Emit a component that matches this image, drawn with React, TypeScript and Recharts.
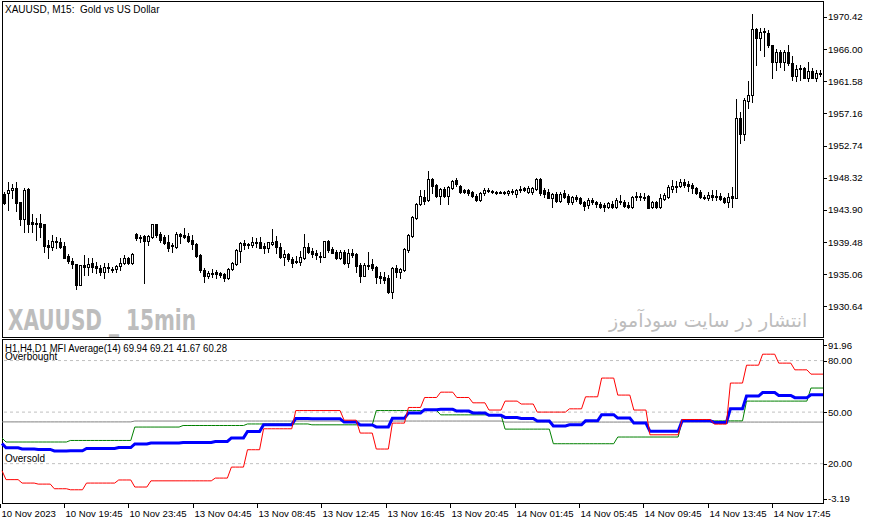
import { Bar, ComposedChart, Line, ReferenceLine, XAxis, YAxis } from "recharts";

const FONT = "'Liberation Sans', Arial, sans-serif";

// XAUUSD M15 candles, bar 0 = 10 Nov 15:45
const OPEN = [
  1946.09, 1946.23, 1946.64, 1946.92, 1944.99, 1942.66, 1946.78, 1942.25, 1942.11, 1942.11,
  1941.97, 1939.09, 1938.81, 1939.64, 1939.5, 1938.95, 1937.58, 1936.89, 1936.48, 1933.59,
  1936.34, 1936.07, 1936.62, 1936.2, 1935.93, 1935.38, 1936.07, 1935.79, 1935.79, 1936.2,
  1936.62, 1937.3, 1936.62, 1940.6, 1940.05, 1940.32, 1939.64, 1940.19, 1941.97, 1940.6,
  1940.19, 1939.5, 1938.95, 1938.81, 1940.6, 1940.46, 1940.32, 1939.77, 1939.23, 1937.71,
  1935.65, 1934.83, 1935.24, 1935.38, 1935.24, 1935.1, 1934.56, 1935.79, 1936.48, 1938.26,
  1939.36, 1939.23, 1939.09, 1939.5, 1939.5, 1938.95, 1938.68, 1939.23, 1939.64, 1938.81,
  1937.44, 1937.85, 1937.17, 1936.89, 1936.75, 1937.3, 1938.81, 1938.26, 1937.99, 1937.58,
  1937.44, 1939.64, 1938.54, 1938.13, 1937.3, 1938.13, 1936.62, 1937.99, 1937.85, 1936.34,
  1934.83, 1936.34, 1936.48, 1936.07, 1934.83, 1934.69, 1934.56, 1932.63, 1935.93, 1935.38,
  1935.65, 1938.4, 1940.32, 1942.8, 1944.72, 1945.68, 1945.27, 1948.16, 1947.33, 1945.82,
  1946.78, 1945.82, 1946.92, 1948.02, 1947.19, 1946.64, 1946.64, 1946.37, 1945.82, 1945.27,
  1946.23, 1946.64, 1946.51, 1946.37, 1946.37, 1946.37, 1946.23, 1946.51, 1946.09, 1946.78,
  1946.92, 1946.37, 1946.37, 1946.78, 1948.16, 1946.64, 1946.37, 1945.54, 1946.09, 1945.13,
  1946.23, 1945.82, 1944.99, 1945.68, 1945.54, 1944.99, 1944.58, 1945.27, 1944.99, 1944.72,
  1944.58, 1944.31, 1944.72, 1944.31, 1945.13, 1944.99, 1944.58, 1944.31, 1945.82, 1945.82,
  1945.68, 1945.82, 1944.31, 1944.99, 1944.31, 1945.41, 1945.68, 1946.78, 1947.19, 1947.19,
  1947.74, 1947.47, 1947.33, 1946.92, 1946.37, 1945.68, 1945.54, 1945.96, 1945.82, 1945.82,
  1945.54, 1944.99, 1945.82, 1945.54, 1956.54, 1954.34, 1958.87, 1959.7, 1968.77, 1967.53,
  1968.49, 1968.22, 1966.57, 1964.23, 1965.61, 1964.23, 1965.61, 1964.09, 1962.31, 1963.27,
  1963.41, 1962.03, 1962.99, 1962.03, 1962.72,
];
const HIGH = [
  1946.37, 1947.74, 1947.47, 1947.74, 1944.99, 1946.92, 1946.92, 1943.35, 1942.8, 1943.35,
  1941.97, 1939.77, 1940.46, 1940.19, 1940.05, 1939.5, 1937.85, 1937.3, 1936.48, 1936.34,
  1937.71, 1937.3, 1937.3, 1936.75, 1936.34, 1936.62, 1936.62, 1936.07, 1936.34, 1937.3,
  1937.71, 1937.44, 1937.99, 1940.74, 1940.46, 1940.46, 1940.46, 1941.97, 1941.97, 1940.87,
  1940.46, 1940.46, 1939.36, 1940.87, 1940.74, 1941.42, 1940.74, 1940.46, 1939.36, 1937.85,
  1935.93, 1935.52, 1935.79, 1935.65, 1935.38, 1935.24, 1935.93, 1936.75, 1938.54, 1939.5,
  1939.77, 1939.36, 1940.19, 1940.05, 1940.19, 1939.36, 1939.5, 1941.29, 1940.32, 1939.36,
  1938.4, 1937.99, 1937.44, 1937.58, 1938.26, 1940.6, 1939.36, 1938.68, 1938.4, 1938.13,
  1939.64, 1939.77, 1938.81, 1938.4, 1938.4, 1938.4, 1938.54, 1938.54, 1937.99, 1936.62,
  1936.62, 1938.13, 1937.17, 1936.2, 1935.38, 1935.38, 1934.97, 1936.07, 1936.34, 1935.93,
  1938.68, 1940.6, 1943.07, 1944.86, 1946.64, 1946.64, 1949.25, 1948.29, 1947.47, 1946.92,
  1947.06, 1947.19, 1948.02, 1948.29, 1947.33, 1946.78, 1946.78, 1946.51, 1946.09, 1946.37,
  1946.92, 1946.92, 1946.64, 1946.51, 1946.51, 1946.51, 1946.64, 1946.78, 1946.78, 1947.19,
  1947.06, 1947.19, 1947.06, 1948.29, 1948.29, 1946.92, 1946.78, 1946.23, 1946.37, 1946.37,
  1946.64, 1946.09, 1945.82, 1945.96, 1945.68, 1945.13, 1945.54, 1945.54, 1945.13, 1944.99,
  1944.86, 1944.99, 1945.13, 1945.54, 1945.96, 1945.27, 1944.99, 1945.82, 1946.37, 1946.23,
  1946.23, 1945.96, 1945.13, 1945.13, 1946.09, 1946.23, 1947.33, 1948.02, 1947.88, 1948.16,
  1948.16, 1947.88, 1947.61, 1947.06, 1946.64, 1945.96, 1946.37, 1946.64, 1946.64, 1946.23,
  1945.68, 1946.23, 1947.06, 1959.15, 1957.36, 1959.28, 1961.62, 1970.83, 1968.9, 1968.9,
  1968.9, 1968.63, 1966.57, 1966.02, 1965.88, 1965.88, 1966.57, 1965.06, 1963.82, 1963.82,
  1963.54, 1964.23, 1963.41, 1963.13, 1963.13,
];
const LOW = [
  1944.72, 1943.9, 1945.54, 1943.76, 1941.84, 1940.87, 1940.87, 1940.87, 1939.77, 1940.19,
  1938.13, 1937.3, 1938.4, 1938.68, 1938.68, 1937.3, 1936.62, 1935.93, 1933.04, 1933.59,
  1934.97, 1934.97, 1935.38, 1935.24, 1934.97, 1934.56, 1935.38, 1935.38, 1935.38, 1935.65,
  1936.48, 1936.48, 1936.48, 1939.77, 1939.5, 1933.87, 1939.09, 1940.05, 1940.19, 1939.5,
  1939.23, 1938.26, 1938.13, 1938.68, 1939.36, 1940.05, 1939.5, 1938.54, 1937.44, 1935.38,
  1934.01, 1934.56, 1934.69, 1934.56, 1934.69, 1934.14, 1934.42, 1935.65, 1936.34, 1936.75,
  1938.54, 1938.68, 1938.81, 1938.81, 1938.68, 1937.99, 1938.13, 1939.09, 1937.99, 1937.3,
  1936.34, 1936.89, 1936.07, 1936.62, 1936.34, 1937.17, 1937.99, 1937.44, 1937.17, 1936.75,
  1937.44, 1938.13, 1937.99, 1937.17, 1937.17, 1936.48, 1936.07, 1937.44, 1935.38, 1934.01,
  1934.83, 1935.79, 1935.65, 1933.87, 1933.87, 1933.87, 1932.49, 1931.8, 1934.69, 1934.56,
  1935.52, 1938.13, 1940.19, 1942.66, 1944.58, 1944.72, 1945.13, 1946.23, 1945.68, 1944.72,
  1945.68, 1944.72, 1946.78, 1947.19, 1946.23, 1946.23, 1945.96, 1945.68, 1945.13, 1945.13,
  1945.96, 1946.37, 1946.23, 1946.09, 1946.23, 1946.09, 1945.96, 1946.09, 1945.68, 1946.37,
  1946.51, 1946.23, 1946.09, 1946.64, 1945.96, 1945.68, 1945.54, 1944.31, 1944.99, 1944.99,
  1945.54, 1944.72, 1944.72, 1945.13, 1944.72, 1943.9, 1944.17, 1944.72, 1944.31, 1944.17,
  1943.76, 1944.17, 1944.17, 1944.17, 1944.72, 1944.31, 1944.17, 1944.17, 1945.27, 1945.27,
  1945.27, 1944.17, 1944.17, 1944.17, 1944.17, 1945.27, 1945.54, 1946.37, 1946.37, 1947.06,
  1947.06, 1946.51, 1946.23, 1946.09, 1945.54, 1945.41, 1945.27, 1945.27, 1945.27, 1945.27,
  1944.86, 1944.31, 1944.31, 1945.54, 1953.1, 1953.51, 1957.91, 1958.74, 1963.82, 1965.88,
  1965.06, 1966.29, 1962.03, 1963.13, 1963.54, 1963.13, 1963.82, 1961.76, 1961.62, 1961.76,
  1962.03, 1961.62, 1962.03, 1961.62, 1962.31,
];
const CLOSE = [
  1944.86, 1946.64, 1946.92, 1944.86, 1942.66, 1946.64, 1941.97, 1941.97, 1941.97, 1941.56,
  1938.95, 1938.81, 1939.64, 1939.5, 1938.81, 1937.3, 1936.89, 1936.48, 1933.59, 1936.34,
  1936.07, 1936.48, 1936.07, 1935.93, 1935.38, 1936.07, 1935.93, 1935.75, 1936.2, 1936.62,
  1937.3, 1936.62, 1937.85, 1940.05, 1940.19, 1939.64, 1940.32, 1941.97, 1940.46, 1939.77,
  1939.36, 1938.68, 1939.09, 1940.6, 1940.32, 1940.19, 1939.64, 1939.23, 1937.58, 1935.65,
  1934.83, 1935.24, 1935.1, 1935.1, 1934.97, 1934.56, 1935.79, 1936.62, 1938.4, 1939.36,
  1939.09, 1939.2, 1939.5, 1939.36, 1938.68, 1938.68, 1939.5, 1939.5, 1938.81, 1937.44,
  1937.85, 1937.17, 1936.62, 1936.7, 1937.44, 1938.81, 1938.13, 1937.85, 1937.71, 1937.44,
  1939.64, 1938.4, 1937.99, 1937.3, 1938.13, 1936.62, 1937.99, 1937.71, 1936.2, 1934.83,
  1936.34, 1936.2, 1935.93, 1934.69, 1934.56, 1934.28, 1932.63, 1935.93, 1935.38, 1935.79,
  1938.54, 1940.46, 1942.93, 1944.72, 1945.82, 1945.13, 1948.16, 1947.19, 1945.82, 1946.78,
  1945.82, 1947.06, 1947.88, 1947.47, 1946.37, 1946.37, 1946.23, 1945.82, 1945.27, 1946.23,
  1946.64, 1946.45, 1946.37, 1946.23, 1946.28, 1946.25, 1946.51, 1946.4, 1946.64, 1946.7,
  1946.7, 1946.92, 1946.92, 1948.16, 1946.23, 1946.09, 1945.54, 1946.09, 1945.13, 1946.09,
  1945.68, 1944.99, 1945.68, 1945.41, 1944.86, 1944.45, 1945.27, 1944.99, 1944.72, 1944.31,
  1944.31, 1944.86, 1944.31, 1945.27, 1944.99, 1944.45, 1944.31, 1945.68, 1945.68, 1945.68,
  1945.54, 1944.17, 1944.99, 1944.31, 1945.54, 1945.96, 1947.06, 1947.19, 1947.06, 1947.74,
  1947.33, 1947.19, 1946.92, 1946.23, 1945.68, 1945.54, 1945.96, 1945.75, 1945.7, 1945.41,
  1944.99, 1945.68, 1945.6, 1956.54, 1954.34, 1959.01, 1959.7, 1968.77, 1967.53, 1968.35,
  1968.35, 1966.57, 1964.23, 1965.61, 1964.23, 1965.61, 1964.09, 1962.31, 1963.27, 1963.45,
  1962.03, 1962.99, 1962.03, 1962.72, 1962.58,
];

// MFI per hour (bar 0 alone, then 4 bars each)
const RED_H1 = [
  15.9, 10.7, 8.7, 8.1, 5.4, 4.8, 8.7, 8.7, 10.5, 6.4, 10.0, 10.0, 10.0, 10.0, 11.6, 18.0,
  28.1, 40.3, 40.3, 50.9, 50.9, 50.9, 45.3, 37.8, 28.5, 43.6, 52.7, 58.5, 61.6, 58.5, 55.4, 51.2,
  56.4, 54.7, 50.0, 50.0, 51.9, 58.9, 69.8, 59.9, 51.2, 36.8, 36.8, 45.7, 45.7, 43.0, 66.9, 77.3,
  83.7, 78.5, 74.6, 72.1,
];
const BLUE_AVG = [
  31.7, 29.2, 28.5, 28.3, 27.4, 27.5, 28.8, 28.8, 29.4, 31.5, 32.0, 32.0, 32.3, 32.3, 32.9, 35.0,
  38.7, 42.7, 42.7, 46.3, 46.1, 46.1, 44.2, 42.5, 41.4, 46.4, 49.5, 51.4, 51.6, 50.6, 49.5, 48.1,
  46.9, 46.3, 44.8, 41.9, 42.6, 44.9, 48.5, 46.5, 43.6, 38.8, 38.8, 44.9, 44.9, 44.0, 52.0, 59.3,
  61.4, 59.7, 58.4, 60.1,
];
const GREEN_H4 = [34.9, 32.6, 33.5, 41.3, 42.2, 43.1, 42.6, 50.9, 48.4, 40.1, 31.6, 35.5, 44.9, 56.4, 64.0];
const GREEN_SPAN = [1, 16, 16, 12, 16, 16, 16, 16, 16, 12, 16, 16, 16, 16, 4];
const GREY_D1 = [44.3, 44.8, 44.2];
const GREY_SPAN = [33, 92, 80];

const PRICE_TICKS = [1930.64, 1935.06, 1939.48, 1943.9, 1948.32, 1952.74, 1957.16, 1961.58, 1966.0, 1970.42];
const MFI_TICKS = [-3.19, 20, 50, 80, 91.96];
const LEVELS = [20, 50, 80];
const TICK_BARS = [0, 16, 32, 48, 64, 80, 96, 112, 128, 144, 160, 176, 192];
const TIME_LABELS = [
  "10 Nov 2023", "10 Nov 19:45", "10 Nov 23:45", "13 Nov 04:45", "13 Nov 08:45", "13 Nov 12:45",
  "13 Nov 16:45", "13 Nov 20:45", "14 Nov 01:45", "14 Nov 05:45", "14 Nov 09:45", "14 Nov 13:45",
  "14 Nov 17:45",
];

function spread(values: number[], spans: number[]) {
  const out: number[] = [];
  values.forEach((v, k) => {
    for (let j = 0; j < spans[k]; j++) out.push(v);
  });
  return out;
}

const candles = OPEN.map((open, i) => ({
  idx: i,
  open,
  high: HIGH[i],
  low: LOW[i],
  close: CLOSE[i],
  range: [LOW[i], HIGH[i]],
}));

const greenBars = spread(GREEN_H4, GREEN_SPAN);
const greyBars = spread(GREY_D1, GREY_SPAN);
const mfi = OPEN.map((_, i) => {
  const h = Math.ceil(i / 4);
  return { idx: i, h1: RED_H1[h], h4: greenBars[i], d1: greyBars[i], avg: BLUE_AVG[h] };
});

function Candle(props: any) {
  const { x, y, width, height, payload } = props;
  const { open, close, high, low } = payload;
  const cx = Math.floor(x + width / 2);
  const span = high - low || 1;
  const py = (v: number) => y + ((high - v) / span) * height;
  const top = Math.round(py(Math.max(open, close)));
  const bot = Math.round(py(Math.min(open, close)));
  const bull = close > open;
  return (
    <g shapeRendering="crispEdges">
      <line x1={cx + 0.5} x2={cx + 0.5} y1={Math.round(y)} y2={Math.round(y + height) + 1} stroke="#000" />
      {bull ? (
        <rect x={cx - 0.5} y={top + 0.5} width={2} height={Math.max(bot - top, 1)} fill="#fff" stroke="#000" />
      ) : (
        <rect x={cx - 1} y={top} width={3} height={Math.max(bot - top, 1) + 1} fill="#000" />
      )}
    </g>
  );
}

function PriceTick(props: any) {
  const { x, y, payload } = props;
  const yy = Math.round(y) + 0.5;
  return (
    <g>
      <line x1={x} x2={x + 4} y1={yy} y2={yy} stroke="#000" shapeRendering="crispEdges" />
      <text x={x + 5} y={y + 3.5} fontSize={9.6} fontFamily={FONT} fill="#000">
        {Number(payload.value).toFixed(2)}
      </text>
    </g>
  );
}

function MfiTick(props: any) {
  const { x, payload } = props;
  const v = Number(payload.value);
  const y = props.y + (v > 90 ? 5 : v < 0 ? -5 : 0);
  const yy = Math.round(y) + 0.5;
  return (
    <g>
      <line x1={x} x2={x + 4} y1={yy} y2={yy} stroke="#000" shapeRendering="crispEdges" />
      <text x={x + 5} y={y + 3.5} fontSize={9.6} fontFamily={FONT} fill="#000">
        {v.toFixed(2)}
      </text>
    </g>
  );
}

function TimeTick(props: any) {
  const { x, y, payload } = props;
  const k = TICK_BARS.indexOf(Number(payload.value));
  const tx = Math.floor(x - 2) + 0.5;
  return (
    <g>
      <line x1={tx} x2={tx} y1={y} y2={y + 4} stroke="#000" shapeRendering="crispEdges" />
      <text x={tx + 1} y={y + 13} fontSize={9.6} fontFamily={FONT} fill="#000">
        {TIME_LABELS[k]}
      </text>
    </g>
  );
}

export default function App() {
  return (
    <div style={{ position: "fixed", left: 0, top: 0, width: 876, height: 525, background: "#fff" }}>
      <div style={{ position: "absolute", left: 0, top: 0 }}>
        <ComposedChart
          width={876}
          height={339}
          data={candles}
          margin={{ top: 2, right: 0, bottom: 3, left: 2 }}
          barCategoryGap={0}
          barGap={0}
        >
          <XAxis dataKey="idx" hide />
          <YAxis
            orientation="right"
            width={53}
            domain={[1926.58, 1972.48]}
            allowDataOverflow
            ticks={PRICE_TICKS}
            interval={0}
            tick={(p: any) => <PriceTick {...p} />}
            tickLine={false}
            tickSize={0}
            tickMargin={0}
            axisLine={false}
          />
          <Bar dataKey="range" shape={(p: any) => <Candle {...p} />} isAnimationActive={false} />
          <rect x={2.5} y={1.5} width={821} height={336} fill="none" stroke="#000" shapeRendering="crispEdges" />
          <text x={5} y={13} fontSize={10} fontFamily={FONT} fill="#000" style={{ whiteSpace: "pre" }}>
            {"XAUUSD, M15:  Gold vs US Dollar"}
          </text>
          <text
            x={8}
            y={330}
            fontSize={28}
            fontWeight="bold"
            fontFamily="'Liberation Sans Narrow', 'DejaVu Sans Condensed', sans-serif"
            fill="#bdbdbd"
            textLength={188}
            lengthAdjust="spacingAndGlyphs"
            style={{ whiteSpace: "pre" }}
          >
            XAUUSD _ 15min
          </text>
          <text x={609} y={327} fontSize={19} fontFamily="'DejaVu Sans', sans-serif" fill="#bdbdbd">
            انتشار در سایت سودآموز
          </text>
        </ComposedChart>
      </div>
      <div style={{ position: "absolute", left: 0, top: 339 }}>
        <ComposedChart width={876} height={186} data={mfi} margin={{ top: 1, right: 0, bottom: 0, left: 2 }}>
          <XAxis
            dataKey="idx"
            height={21.5}
            ticks={TICK_BARS}
            interval={0}
            tick={(p: any) => <TimeTick {...p} />}
            tickLine={false}
            tickSize={0}
            tickMargin={0}
            axisLine={false}
          />
          <YAxis
            orientation="right"
            width={53}
            domain={[-3.19, 91.96]}
            allowDataOverflow
            ticks={MFI_TICKS}
            interval={0}
            tick={(p: any) => <MfiTick {...p} />}
            tickLine={false}
            tickSize={0}
            tickMargin={0}
            axisLine={false}
          />
          {LEVELS.map((v) => (
            <ReferenceLine key={v} y={v} stroke="#c0c0c0" strokeDasharray="3 3" />
          ))}
          <Line dataKey="d1" stroke="#808080" strokeWidth={1} dot={false} activeDot={false} isAnimationActive={false} />
          <Line dataKey="h4" stroke="#008000" strokeWidth={1} dot={false} activeDot={false} isAnimationActive={false} />
          <Line dataKey="avg" stroke="#0000ff" strokeWidth={3} dot={false} activeDot={false} isAnimationActive={false} />
          <Line dataKey="h1" stroke="#ff0000" strokeWidth={1} dot={false} activeDot={false} isAnimationActive={false} />
          <rect x={2.5} y={0.5} width={821} height={164} fill="none" stroke="#000" shapeRendering="crispEdges" />
          <text x={5} y={13} fontSize={10} fontFamily={FONT} fill="#000" textLength={222} lengthAdjust="spacingAndGlyphs">
            H1,H4,D1 MFI Average(14) 69.94 69.21 41.67 60.28
          </text>
          <text x={5} y={21} fontSize={10} fontFamily={FONT} fill="#000">
            Overbought
          </text>
          <text x={5} y={123} fontSize={10} fontFamily={FONT} fill="#000">
            Oversold
          </text>
        </ComposedChart>
      </div>
    </div>
  );
}
